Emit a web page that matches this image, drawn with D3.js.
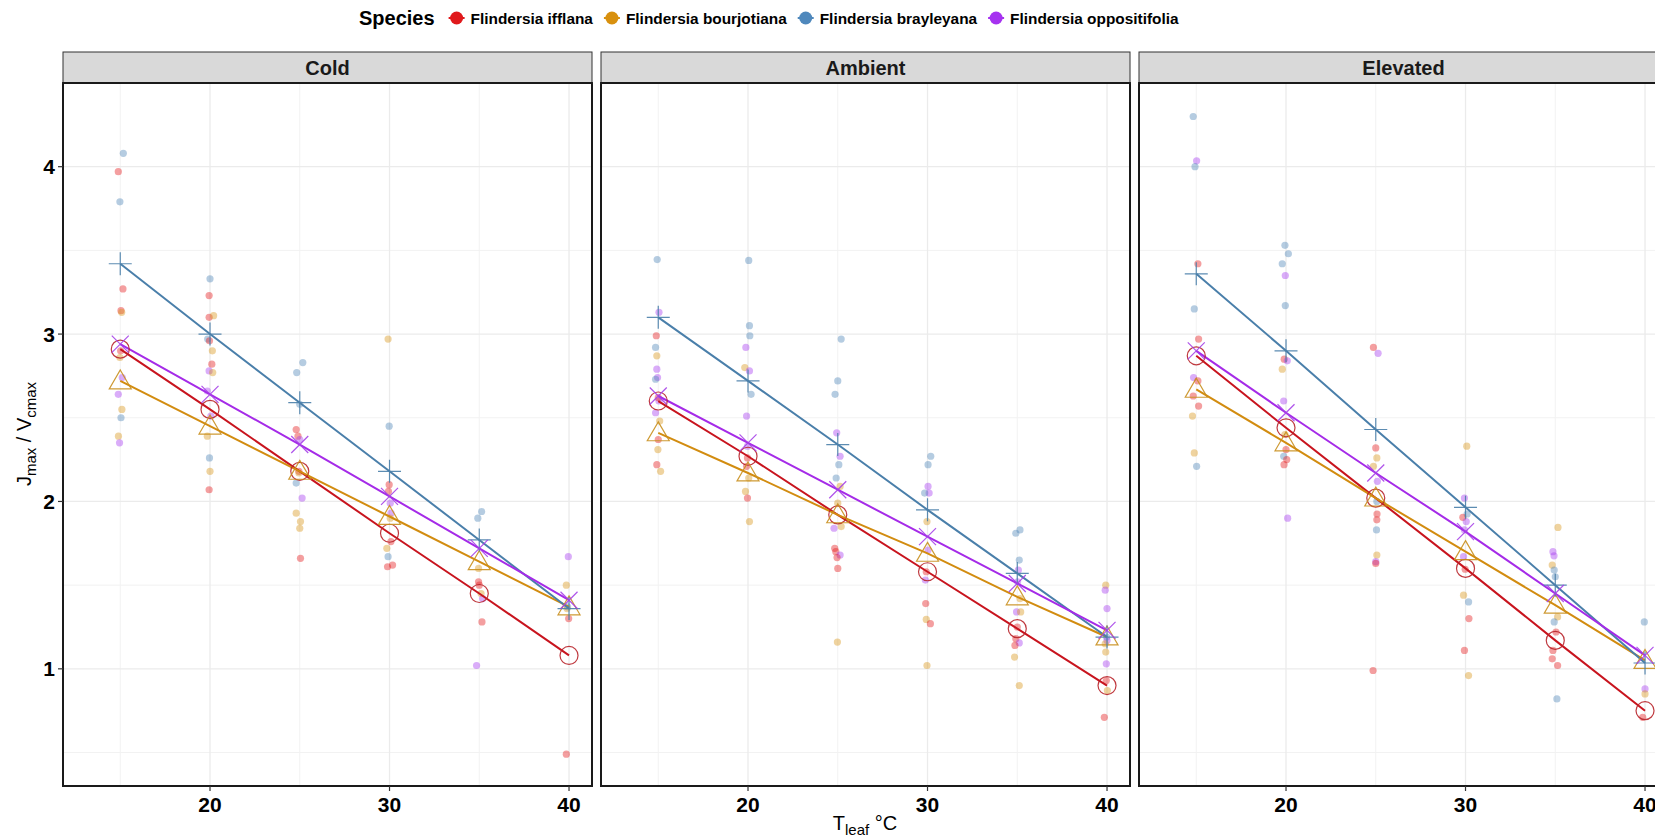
<!DOCTYPE html>
<html>
<head>
<meta charset="utf-8">
<script src="https://cdn.jsdelivr.net/npm/d3@7"></script>
<style>
  html, body { margin: 0; padding: 0; background: #fff; }
  svg { display: block; font-family: "Liberation Sans", Arial, Helvetica, sans-serif; }
</style>
</head>
<body>
<svg id="chart" width="1655" height="840"></svg>
<script>
// ---- data ----------------------------------------------------------------
const panels = ["Cold", "Ambient", "Elevated"];
const species = ["Flindersia ifflana", "Flindersia bourjotiana", "Flindersia brayleyana", "Flindersia oppositifolia"];
const tempSteps = [15, 20, 25, 30, 35, 40];
const xTicks = [20, 30, 40];
const yTicks = [1, 2, 3, 4];

// fitted Jmax/Vcmax at each temperature step, one row per species
const fitCold = [
  [2.91, 2.55, 2.18, 1.81, 1.45, 1.08],
  [2.72, 2.45, 2.18, 1.91, 1.64, 1.37],
  [3.42, 3.00, 2.59, 2.18, 1.77, 1.36],
  [2.94, 2.64, 2.34, 2.03, 1.72, 1.41]
];
const fitAmbient = [
  [2.60, 2.27, 1.92, 1.58, 1.24, 0.90],
  [2.41, 2.17, 1.92, 1.69, 1.43, 1.19],
  [3.10, 2.72, 2.34, 1.95, 1.57, 1.19],
  [2.63, 2.35, 2.07, 1.79, 1.51, 1.23]
];
const fitElevated = [
  [2.87, 2.44, 2.02, 1.60, 1.17, 0.75],
  [2.67, 2.35, 2.02, 1.70, 1.38, 1.05],
  [3.36, 2.90, 2.43, 1.965, 1.50, 1.035],
  [2.90, 2.53, 2.17, 1.82, 1.45, 1.08]
];

// measured leaves: [species index, Tleaf, Jmax/Vcmax]
const obsCold = [
  [2,15.17,4.08],[0,14.89,3.97],[2,14.98,3.79],[0,15.15,3.27],[0,15.04,3.14],[1,15.08,3.13],
  [0,15.02,2.90],[1,14.98,2.86],[3,15.11,2.74],[3,14.89,2.64],[1,15.09,2.55],[2,15.04,2.50],
  [1,14.90,2.39],[3,14.96,2.35],
  [2,20.00,3.33],[0,19.95,3.23],[0,19.95,3.10],[1,20.20,3.11],[2,19.87,2.97],[0,19.97,2.96],
  [1,20.13,2.90],[0,20.10,2.82],[3,19.95,2.78],[1,20.15,2.77],[3,19.85,2.66],[3,20.05,2.51],
  [1,19.85,2.39],[2,19.97,2.26],[1,20.00,2.18],[0,19.95,2.07],
  [2,25.17,2.83],[2,24.83,2.77],[2,25.00,2.58],[0,24.80,2.43],[0,24.90,2.39],[3,25.00,2.37],
  [0,24.95,2.18],[1,24.95,2.17],[2,24.80,2.11],[3,25.13,2.02],[1,24.80,1.93],[1,25.04,1.88],
  [1,25.00,1.84],[0,25.04,1.66],
  [1,29.92,2.97],[2,29.98,2.45],[0,29.98,2.10],[0,29.94,2.06],[3,30.08,1.93],[3,30.04,1.99],
  [1,30.04,1.90],[0,30.08,1.76],[1,29.85,1.72],[2,29.92,1.67],[0,29.89,1.61],[0,30.17,1.62],
  [2,35.13,1.94],[2,34.92,1.90],[1,34.96,1.60],[0,34.96,1.52],[0,35.00,1.50],[1,35.10,1.45],
  [3,35.19,1.42],[0,35.15,1.28],[3,34.85,1.02],
  [3,39.96,1.67],[1,39.85,1.50],[2,39.92,1.37],[1,39.89,1.36],[0,39.98,1.30],[0,39.85,0.49]
];
const obsAmbient = [
  [2,14.94,3.445],[3,15.04,3.13],[0,14.89,2.99],[2,14.85,2.92],[1,14.92,2.87],[3,14.92,2.79],
  [3,14.96,2.74],[2,14.85,2.73],[3,15.04,2.60],[0,15.00,2.62],[3,14.85,2.53],[1,15.08,2.48],
  [0,15.00,2.37],[1,14.98,2.31],[0,14.92,2.22],[1,15.13,2.18],
  [2,20.04,3.44],[2,20.08,3.05],[2,20.10,2.99],[3,19.88,2.92],[1,19.82,2.80],[3,20.08,2.78],
  [2,20.17,2.64],[3,19.92,2.51],[3,19.97,2.33],[0,19.97,2.26],[0,19.92,2.21],[1,20.04,2.14],
  [1,19.86,2.06],[0,19.97,2.02],[1,20.08,1.88],
  [2,25.19,2.97],[2,25.00,2.72],[2,24.85,2.64],[3,24.94,2.41],[3,25.13,2.27],[2,25.06,2.22],
  [2,24.91,2.14],[1,25.13,2.09],[1,25.00,1.99],[1,25.19,1.85],[3,24.79,1.84],[0,24.83,1.72],
  [0,24.89,1.70],[3,25.13,1.68],[0,24.96,1.665],[0,25.00,1.60],[1,24.98,1.16],
  [2,30.18,2.27],[2,30.03,2.22],[3,30.03,2.09],[3,30.09,2.05],[2,29.84,2.05],[1,29.97,1.88],
  [3,30.03,1.71],[0,29.93,1.58],[3,29.88,1.53],[0,29.90,1.39],[1,29.93,1.295],[0,30.16,1.27],
  [1,29.97,1.02],
  [2,35.15,1.83],[2,34.92,1.81],[2,35.11,1.65],[3,35.06,1.59],[3,35.02,1.52],[1,35.15,1.42],
  [3,34.96,1.34],[1,35.19,1.34],[0,35.00,1.25],[0,34.92,1.18],[3,35.11,1.155],[0,34.87,1.14],
  [1,34.85,1.07],[1,35.11,0.90],
  [1,39.93,1.50],[3,39.90,1.47],[3,40.00,1.36],[2,39.98,1.19],[3,40.00,1.17],[1,39.90,1.15],
  [1,39.93,1.10],[3,39.96,1.03],[0,39.96,0.93],[1,40.02,0.87],[0,39.85,0.71]
];
const obsElevated = [
  [2,14.83,4.30],[3,15.02,4.035],[2,14.93,4.00],[0,15.09,3.42],[2,14.89,3.15],[0,15.13,2.97],
  [3,14.85,2.74],[0,15.09,2.72],[0,14.83,2.63],[0,15.13,2.57],[1,14.79,2.51],[1,14.89,2.29],
  [2,15.02,2.21],
  [2,19.94,3.53],[2,20.13,3.48],[2,19.79,3.42],[3,19.96,3.35],[2,19.96,3.17],[0,19.90,2.85],
  [3,20.07,2.84],[1,19.79,2.79],[3,19.87,2.60],[1,19.94,2.40],[0,20.00,2.31],[2,19.87,2.27],
  [0,20.04,2.25],[0,19.89,2.22],[3,20.09,1.90],
  [0,24.87,2.92],[3,25.13,2.885],[0,25.00,2.32],[1,25.06,2.26],[1,24.87,2.21],[3,25.09,2.12],
  [2,25.06,2.00],[0,25.07,1.925],[0,25.06,1.89],[2,25.04,1.83],[1,25.06,1.68],[3,25.00,1.64],
  [0,25.00,1.63],[0,24.85,0.99],
  [1,30.07,2.33],[3,29.94,2.02],[2,30.09,1.925],[0,29.85,1.905],[3,30.04,1.88],[3,29.94,1.83],
  [3,29.89,1.67],[0,29.98,1.595],[1,29.89,1.44],[2,30.17,1.40],[0,30.19,1.30],[0,29.94,1.11],
  [1,30.17,0.96],
  [1,35.15,1.845],[3,34.87,1.70],[3,34.93,1.675],[1,34.83,1.62],[2,34.94,1.59],[2,35.00,1.55],
  [1,35.13,1.31],[2,34.94,1.28],[0,35.04,1.22],[0,34.87,1.11],[0,34.83,1.06],[0,35.13,1.02],
  [2,35.09,0.82],
  [2,39.96,1.28],[3,40.00,0.88],[1,40.00,0.85],[0,39.87,0.71]
];

const fits = [fitCold, fitAmbient, fitElevated];
const obs = [obsCold, obsAmbient, obsElevated];

// ---- styling -------------------------------------------------------------
const dotColor  = ["#E41A1C", "#D9961A", "#4F86B8", "#A63CF0"];
const lineColor = ["#C8141E", "#D28C10", "#4A7FAA", "#A52BE8"];
const markColor = ["#B8232A", "#C98F1E", "#4A7FAA", "#A640E8"];
const keyColor  = ["#E0191C", "#D8900E", "#4F88BC", "#A632F0"];

const svg = d3.select("#chart");
svg.append("rect").attr("width", 1655).attr("height", 840).attr("fill", "#fff");

const panelW = 529, panelTop = 83, panelBottom = 786, stripTop = 52;
const panelX = [63, 601, 1139];

const y = d3.scaleLinear().domain([0.30, 4.50]).range([panelBottom, panelTop]);
const minorY = [0.5, 1.5, 2.5, 3.5];
const minorX = [15, 25, 35];

// marker shapes drawn around a point (cx, cy)
function markerPath(k, cx, cy) {
  const p = d3.path();
  if (k === 0) {           // open circle
    p.moveTo(cx + 9, cy); p.arc(cx, cy, 9, 0, 2 * Math.PI);
  } else if (k === 1) {    // open triangle
    const s = 11;
    p.moveTo(cx, cy - s * 1.0);
    p.lineTo(cx + s, cy + s * 0.72);
    p.lineTo(cx - s, cy + s * 0.72);
    p.closePath();
  } else if (k === 2) {    // plus
    const s = 11.5;
    p.moveTo(cx - s, cy); p.lineTo(cx + s, cy);
    p.moveTo(cx, cy - s); p.lineTo(cx, cy + s);
  } else {                 // cross
    const s = 8.5;
    p.moveTo(cx - s, cy - s); p.lineTo(cx + s, cy + s);
    p.moveTo(cx - s, cy + s); p.lineTo(cx + s, cy - s);
  }
  return p.toString();
}

panels.forEach((name, pi) => {
  const x0 = panelX[pi];
  const x = d3.scaleLinear().domain([11.81, 41.28]).range([x0, x0 + panelW]);
  const g = svg.append("g");
  const clipId = "clip" + pi;
  svg.append("clipPath").attr("id", clipId)
    .append("rect").attr("x", x0).attr("y", panelTop).attr("width", panelW).attr("height", panelBottom - panelTop);

  // grid
  const grid = g.append("g");
  grid.selectAll(".ymin").data(minorY).join("line")
    .attr("x1", x0).attr("x2", x0 + panelW).attr("y1", d => y(d)).attr("y2", d => y(d))
    .attr("stroke", "#F2F2F2").attr("stroke-width", 1);
  grid.selectAll(".xmin").data(minorX).join("line")
    .attr("y1", panelTop).attr("y2", panelBottom).attr("x1", d => x(d)).attr("x2", d => x(d))
    .attr("stroke", "#F2F2F2").attr("stroke-width", 1);
  grid.selectAll(".ymaj").data(yTicks).join("line")
    .attr("x1", x0).attr("x2", x0 + panelW).attr("y1", d => y(d)).attr("y2", d => y(d))
    .attr("stroke", "#EBEBEB").attr("stroke-width", 1.3);
  grid.selectAll(".xmaj").data(xTicks).join("line")
    .attr("y1", panelTop).attr("y2", panelBottom).attr("x1", d => x(d)).attr("x2", d => x(d))
    .attr("stroke", "#EBEBEB").attr("stroke-width", 1.3);

  const inner = g.append("g").attr("clip-path", `url(#${clipId})`);

  // observations
  inner.selectAll("circle.obs").data(obs[pi]).join("circle")
    .attr("cx", d => x(d[1])).attr("cy", d => y(d[2])).attr("r", 3.6)
    .attr("fill", d => dotColor[d[0]]).attr("fill-opacity", 0.42);

  // fitted lines
  const line = d3.line().x(d => x(d[0])).y(d => y(d[1]));
  fits[pi].forEach((vals, si) => {
    const pts = tempSteps.map((t, i) => [t, vals[i]]);
    inner.append("path").attr("d", line(pts))
      .attr("fill", "none").attr("stroke", lineColor[si]).attr("stroke-width", 2);
  });
  // fitted markers
  fits[pi].forEach((vals, si) => {
    inner.selectAll(null).data(tempSteps.map((t, i) => [t, vals[i]])).join("path")
      .attr("d", d => markerPath(si, x(d[0]), y(d[1])))
      .attr("fill", "none").attr("stroke", markColor[si]).attr("stroke-width", 1.2)
      .attr("stroke-opacity", 0.9);
  });

  // panel border
  g.append("rect").attr("x", x0).attr("y", panelTop).attr("width", panelW).attr("height", panelBottom - panelTop)
    .attr("fill", "none").attr("stroke", "#1a1a1a").attr("stroke-width", 2);

  // strip
  g.append("rect").attr("x", x0).attr("y", stripTop).attr("width", panelW).attr("height", panelTop - stripTop)
    .attr("fill", "#D9D9D9").attr("stroke", "#333").attr("stroke-width", 1);
  g.append("line").attr("x1", x0).attr("x2", x0 + panelW).attr("y1", panelTop).attr("y2", panelTop)
    .attr("stroke", "#1a1a1a").attr("stroke-width", 2);
  g.append("text").attr("x", x0 + panelW / 2).attr("y", (stripTop + panelTop) / 2 + 7)
    .attr("text-anchor", "middle").attr("font-weight", "bold").attr("font-size", 20)
    .attr("fill", "#1a1a1a").text(name);

  // x axis
  const xa = g.append("g");
  xa.selectAll("line").data(xTicks).join("line")
    .attr("x1", d => x(d)).attr("x2", d => x(d)).attr("y1", panelBottom).attr("y2", panelBottom + 5)
    .attr("stroke", "#333").attr("stroke-width", 1.2);
  xa.selectAll("text").data(xTicks).join("text")
    .attr("x", d => x(d)).attr("y", panelBottom + 26)
    .attr("text-anchor", "middle").attr("font-weight", "bold").attr("font-size", 21)
    .attr("fill", "#000").text(d => d);

  // y axis on the first panel
  if (pi === 0) {
    const ya = g.append("g");
    ya.selectAll("line").data(yTicks).join("line")
      .attr("x1", x0 - 5).attr("x2", x0).attr("y1", d => y(d)).attr("y2", d => y(d))
      .attr("stroke", "#333").attr("stroke-width", 1.2);
    ya.selectAll("text").data(yTicks).join("text")
      .attr("x", x0 - 8).attr("y", d => y(d) + 7.5)
      .attr("text-anchor", "end").attr("font-weight", "bold").attr("font-size", 21)
      .attr("fill", "#000").text(d => d);
  }
});

// axis titles
const yTitle = svg.append("text")
  .attr("transform", "translate(31,434) rotate(-90)")
  .attr("text-anchor", "middle").attr("font-size", 20).attr("fill", "#000");
yTitle.append("tspan").text("J");
yTitle.append("tspan").attr("font-size", 15).attr("dy", 5).text("max");
yTitle.append("tspan").attr("dy", -5).text(" / V");
yTitle.append("tspan").attr("font-size", 15).attr("dy", 5).text("cmax");

const xTitle = svg.append("text")
  .attr("x", 865).attr("y", 830)
  .attr("text-anchor", "middle").attr("font-size", 20).attr("fill", "#000");
xTitle.append("tspan").text("T");
xTitle.append("tspan").attr("font-size", 15).attr("dy", 5).text("leaf");
xTitle.append("tspan").attr("dy", -5).text(" °C");

// legend
const legend = svg.append("g").attr("font-weight", "bold");
let lx = 359;
const ly = 18;
const title = legend.append("text").attr("x", lx).attr("y", ly + 7).attr("font-size", 20)
  .attr("fill", "#000").text("Species");
lx += title.node().getComputedTextLength() + 22;
species.forEach((s, i) => {
  legend.append("line").attr("x1", lx - 8).attr("x2", lx + 8).attr("y1", ly).attr("y2", ly)
    .attr("stroke", keyColor[i]).attr("stroke-width", 2);
  legend.append("circle").attr("cx", lx).attr("cy", ly).attr("r", 6.5).attr("fill", keyColor[i]);
  const t = legend.append("text").attr("x", lx + 14).attr("y", ly + 5.7).attr("font-size", 15.4)
    .attr("fill", "#000").text(s);
  lx += 14 + t.node().getComputedTextLength() + 19;
});
</script>
</body>
</html>
